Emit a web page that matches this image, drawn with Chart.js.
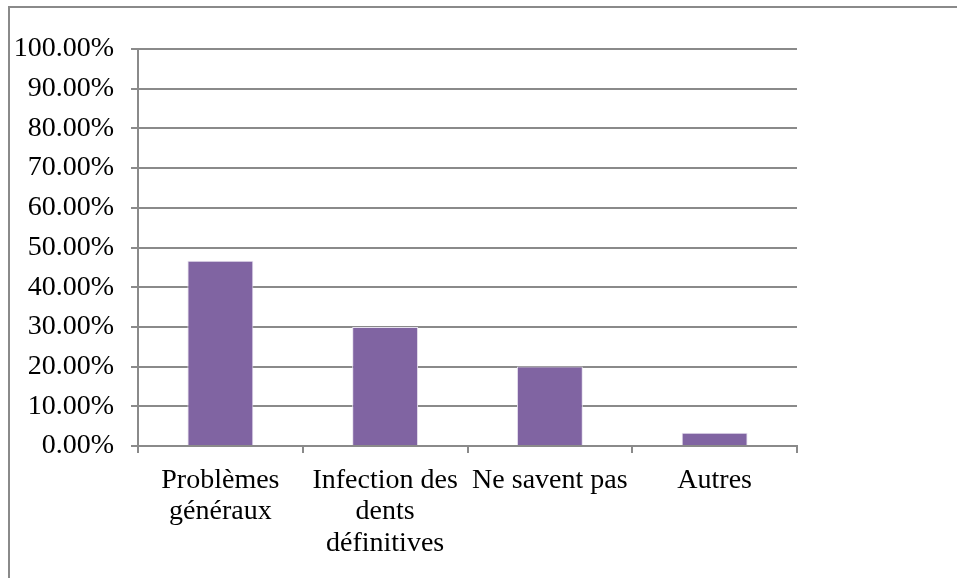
<!DOCTYPE html>
<html><head><meta charset="utf-8">
<script src="https://cdn.jsdelivr.net/npm/chart.js@4"></script>
<style>
html,body{margin:0;padding:0;background:#fff;}
#wrap{position:absolute;left:0;top:0;width:957px;height:578px;}
#frame{position:absolute;left:8px;top:6px;width:1000px;height:700px;border:2px solid #8a8a8a;box-sizing:border-box;}
canvas{position:absolute;left:0;top:0;}
</style></head>
<body>
<div id="wrap"><div id="frame"></div><canvas id="c" width="957" height="578"></canvas></div>
<script>
const categories = [["Problèmes","généraux"],["Infection des","dents","définitives"],["Ne savent pas"],["Autres"]];
const values = [46.67, 30.0, 20.0, 3.33];
const yTicks = [0,10,20,30,40,50,60,70,80,90,100];

const yFont = {family:"'Liberation Serif', serif", size:28, lineHeight:1.07};
const xFont = {family:"'Liberation Serif', serif", size:28, lineHeight:1.12};
new Chart(document.getElementById('c'), {
  type:'bar',
  data:{labels:categories, datasets:[{data:values, backgroundColor:'#8064A2', borderColor:'#e6e0ee', borderWidth:1, barPercentage:0.4, categoryPercentage:1.0}]},
  options:{
    responsive:false, animation:false,
    layout:{padding:{top:49,right:160,left:0,bottom:0}},
    plugins:{legend:{display:false},tooltip:{enabled:false}},
    scales:{
      y:{min:0,max:100,
        afterFit:s=>{s.width=138;},
        afterBuildTicks:s=>{s.ticks=yTicks.map(v=>({value:v}));},
        ticks:{callback:v=>v.toFixed(2)+'%',color:'#000',font:yFont,padding:17},
        grid:{color:'#8a8a8a',lineWidth:2,tickLength:7},
        border:{color:'#8a8a8a',width:2}
      },
      x:{
        afterFit:s=>{s.height=132;},
        ticks:{color:'#000',font:xFont,padding:12,maxRotation:0,autoSkip:false},
        grid:{drawOnChartArea:false,color:'#8a8a8a',lineWidth:2,tickLength:7,offset:true},
        border:{color:'#8a8a8a',width:2}
      }
    }
  }
});
</script>
</body></html>
